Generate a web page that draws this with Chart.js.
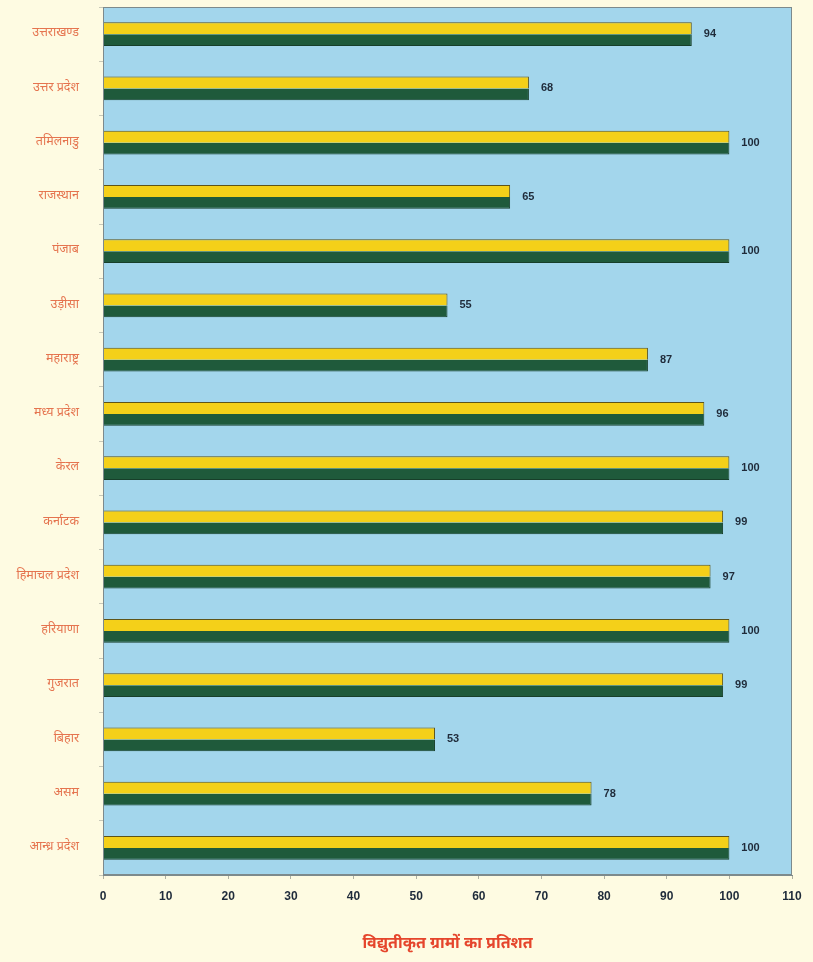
<!DOCTYPE html>
<html>
<head>
<meta charset="utf-8">
<script src="https://cdn.jsdelivr.net/npm/chart.js@4/dist/chart.umd.min.js"></script>
<style>
  html, body { margin: 0; padding: 0; background: #fefbe2; }
  #wrap { width: 813px; height: 962px; position: relative; }
</style>
</head>
<body>
<div id="wrap"><canvas id="c" width="813" height="962"></canvas></div>
<script>
const states = [
  "उत्तराखण्ड", "उत्तर प्रदेश", "तमिलनाडु", "राजस्थान", "पंजाब", "उड़ीसा",
  "महाराष्ट्र", "मध्य प्रदेश", "केरल", "कर्नाटक", "हिमाचल प्रदेश", "हरियाणा",
  "गुजरात", "बिहार", "असम", "आन्ध्र प्रदेश"
];
const electrifiedPct = [94, 68, 100, 65, 100, 55, 87, 96, 100, 99, 97, 100, 99, 53, 78, 100];
const xTicks = [0, 10, 20, 30, 40, 50, 60, 70, 80, 90, 100, 110];
const xTitle = "विद्युतीकृत ग्रामों का प्रतिशत";

const DEVA = "'Noto Sans Devanagari', 'Lohit Devanagari', 'Noto Sans', sans-serif";
const NUMF = "'Liberation Sans', Arial, sans-serif";

const framePlugin = {
  id: 'frame',
  beforeDraw(chart) {
    const { ctx, chartArea: a } = chart;
    ctx.save();
    ctx.fillStyle = '#a3d6ec';
    ctx.fillRect(a.left, a.top, a.right - a.left, a.bottom - a.top);
    ctx.restore();
  },
  afterDraw(chart) {
    const { ctx, chartArea: a } = chart;
    ctx.save();
    ctx.strokeStyle = '#7d8a8c';
    ctx.lineWidth = 1;
    ctx.strokeRect(a.left + 0.5, a.top + 0.5, a.right - a.left - 1, a.bottom - a.top - 1);
    ctx.restore();
  }
};

const valuePlugin = {
  id: 'values',
  afterDatasetsDraw(chart) {
    const { ctx } = chart;
    const m0 = chart.getDatasetMeta(0), m1 = chart.getDatasetMeta(1);
    ctx.save();
    ctx.font = "bold 11px " + NUMF;
    ctx.fillStyle = '#1f2b3a';
    ctx.textAlign = 'left';
    ctx.textBaseline = 'middle';
    electrifiedPct.forEach((v, i) => {
      const b0 = m0.data[i], b1 = m1.data[i];
      const y = (b0.y + b1.y) / 2;
      const x = Math.max(b0.x, b1.x) + 12;
      ctx.fillText(String(v), x, y);
    });
    ctx.restore();
  }
};

new Chart(document.getElementById('c'), {
  type: 'bar',
  data: {
    labels: states,
    datasets: [
      {
        data: electrifiedPct,
        backgroundColor: '#f4d019',
        borderColor: '#5e5418',
        borderWidth: { top: 1, right: 1, left: 0, bottom: 0 },
        borderSkipped: false,
        categoryPercentage: 0.44,
        barPercentage: 1.0
      },
      {
        data: electrifiedPct,
        backgroundColor: '#1f5a3b',
        borderColor: '#173f2a',
        borderWidth: { top: 0, right: 1, left: 0, bottom: 1 },
        borderSkipped: false,
        categoryPercentage: 0.44,
        barPercentage: 1.0
      }
    ]
  },
  options: {
    indexAxis: 'y',
    responsive: false,
    animation: false,
    devicePixelRatio: 1,
    layout: { padding: { top: 7, right: 21, left: 0, bottom: 0 } },
    plugins: {
      legend: { display: false },
      tooltip: { enabled: false },
      title: { display: false }
    },
    scales: {
      x: {
        type: 'linear',
        min: 0,
        max: 110,
        afterBuildTicks(scale) { scale.ticks = xTicks.map(v => ({ value: v })); },
        afterFit(scale) { scale.height = 87; scale.paddingLeft = 0; scale.paddingRight = 0; },
        border: { display: true, color: '#7d8a8c', width: 1 },
        grid: { drawOnChartArea: false, drawTicks: true, tickLength: 4, color: '#b0b0a0' },
        ticks: {
          padding: 10,
          maxRotation: 0,
          autoSkip: false,
          color: '#1f2b3a',
          font: { family: NUMF, size: 12, weight: 'bold' }
        },
        title: {
          display: true,
          text: xTitle,
          color: '#e5452c',
          font: { family: DEVA, size: 16, weight: 'bold' },
          padding: { top: 22, bottom: 7 }
        }
      },
      y: {
        type: 'category',
        afterFit(scale) { scale.width = 103; scale.paddingTop = 0; scale.paddingBottom = 0; },
        border: { display: true, color: '#7d8a8c', width: 1 },
        grid: { drawOnChartArea: false, drawTicks: true, tickLength: 4, offset: true, color: '#c8c8b8' },
        ticks: {
          padding: 20,
          autoSkip: false,
          color: '#e5744f',
          font: { family: DEVA, size: 12.5 }
        }
      }
    }
  },
  plugins: [framePlugin, valuePlugin]
});
</script>
</body>
</html>
